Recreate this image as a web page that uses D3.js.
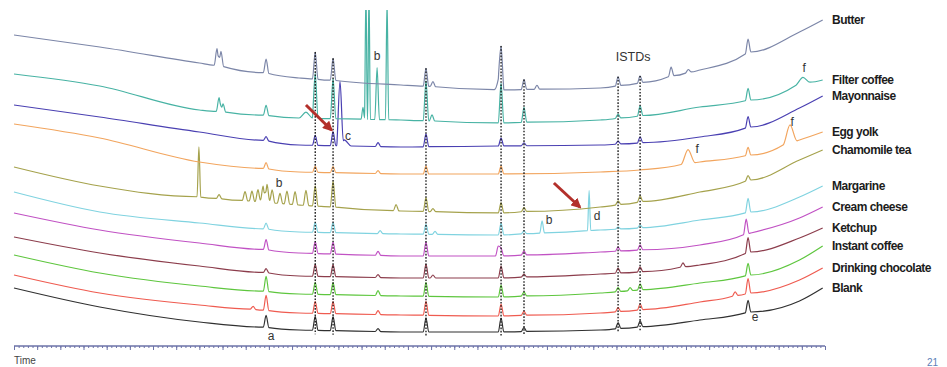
<!DOCTYPE html>
<html>
<head>
<meta charset="utf-8">
<script src="https://cdn.jsdelivr.net/npm/d3@7"></script>
<style>
  html, body { margin: 0; padding: 0; background: #fff; }
  svg { display: block; }
</style>
</head>
<body>
<div id="chart"></div>
<script>
// retention time grid (min) where the baselines were read
const knotTimes = [0, 3.7, 8, 12.3, 16.7, 21, 25.3, 27, 29.6, 31.8, 33.9, 34.9];

// baseline response of each trace at knotTimes
const butterBase     = [315, 303, 287, 272, 265, 260, 262, 267, 280, 298, 318, 330];
const filterBase     = [276, 264, 240, 232, 230, 227, 230, 234, 243, 250, 266, 270];
const mayoBase       = [245, 233, 218, 205, 203, 204, 205, 207, 213, 223, 242, 254];
const eggBase        = [226, 212, 188, 178, 176, 176, 178, 180, 188, 195, 210, 218];
const chamomileBase  = [183, 164, 153, 145, 139, 137, 143, 148, 158, 170, 190, 200];
const margarineBase  = [158, 138, 127, 118, 116, 115, 120, 122, 130, 138, 153, 164];
const creamBase      = [137, 120, 107,  97,  94,  94,  98, 100, 105, 117, 132, 143];
const ketchupBase    = [113,  97,  84,  74,  72,  72,  76,  78,  85,  98, 112, 122];
const instantBase    = [ 95,  77,  64,  56,  54,  53,  57,  60,  67,  75,  90, 104];
const chocolateBase  = [ 75,  57,  45,  37,  35,  34,  37,  40,  48,  57,  70,  82];
const blankBase      = [ 62,  43,  28,  20,  18,  18,  20,  23,  30,  38,  49,  62];

// peaks: [time, height, half width]
const butterPeaks = [[8.76,17],[8.93,15],[10.88,14],[13.0,27],[13.77,22],[17.78,18],[18.08,5],
  [20.92,12,0.2],[21.02,38],[22.01,10],[22.57,4],[26.07,9],[27.02,7],[28.36,9],[29.1,3],[31.68,14]];
const filterPeaks = [[8.85,14],[9.02,8],[10.88,10],[12.6,6,0.3],[13.0,45],[13.77,40],[15.06,12,0.08],
  [15.19,130,0.06],[15.32,130,0.06],[15.67,52,0.1],[16.1,120,0.07],[17.78,40],[18.04,6],[21.02,40],
  [22.01,15],[26.07,4],[27.02,10],[31.68,12],[34.05,6,0.3]];
const mayoPeaks = [[10.88,4],[13.0,10],[13.77,14],[14.07,62,0.14],[14.25,6,0.3],[15.71,4],[17.78,13],
  [21.02,8],[22.01,3],[26.07,3],[27.02,6],[31.68,11]];
const eggPeaks = [[10.88,6],[13.0,6],[13.77,6],[15.71,3],[17.78,8],[21.02,8],[29.09,14,0.3],
  [31.68,8],[33.49,18,0.3]];
const chamomilePeaks = [[7.98,50,0.08],[8.85,4],[9.97,9],[10.27,10],[10.53,12],[10.75,16],[10.92,18],
  [11.14,13],[11.48,10],[11.78,13],[12.13,13],[12.6,15],[13.0,20],[13.77,26],[16.49,6],[17.78,14],
  [18.08,3],[21.02,10],[22.01,4],[26.07,4],[27.02,6],[31.68,5]];
const margarinePeaks = [[10.88,6],[13.0,10],[13.77,10],[15.8,3],[17.78,10],[18.17,3],[21.02,12],
  [22.01,3],[22.79,12,0.1],[24.82,40,0.07],[26.07,2],[27.02,3],[31.68,14]];
const creamPeaks = [[10.88,10],[13.0,12],[13.77,12],[15.71,4],[17.78,14],[20.9,10],[21.02,8],
  [22.01,4],[26.07,4],[27.02,5],[31.6,15]];
const ketchupPeaks = [[10.88,4],[13.0,12],[13.77,12],[15.71,3],[17.78,14],[18.08,3],[21.02,12],
  [22.01,3],[26.07,5],[27.02,5],[28.87,4],[31.68,15]];
const instantPeaks = [[10.88,15],[13.0,12],[13.77,12],[15.71,5],[17.78,14],[21.02,12],[22.01,4],
  [26.07,4],[26.59,3],[27.02,6],[31.68,12]];
const chocolatePeaks = [[10.32,3],[10.88,15],[13.0,12],[13.77,12],[15.71,4],[17.78,14],[21.02,12],
  [22.01,4],[26.07,4],[27.02,6],[31.12,4],[31.68,15]];
const blankPeaks = [[10.88,12],[13.0,14],[13.77,14],[15.71,3],[17.78,14],[21.02,14],[22.01,4],
  [26.07,6],[27.02,6],[31.68,12]];

const names = ['Butter', 'Filter coffee', 'Mayonnaise', 'Egg yolk', 'Chamomile tea', 'Margarine',
  'Cream cheese', 'Ketchup', 'Instant coffee', 'Drinking chocolate', 'Blank'];
const colors = ['#7c86a8', '#48b3a4', '#4a40b2', '#f2a55e', '#a5a24c', '#80d3e0',
  '#c152c4', '#8c3d4c', '#5ec63e', '#ef5b50', '#303030'];

// retention times marked with dotted lines (ISTDs etc.)
const markerTimes = [13.0, 13.77, 17.78, 21.02, 22.01, 26.07, 27.02];

// annotation letters: [text, time, response]
const notes = [['a', 11.09, 14], ['b', 15.67, 294], ['c', 14.41, 214], ['b', 11.44, 167],
  ['b', 23.09, 130], ['d', 25.16, 134], ['e', 31.98, 33], ['f', 34.1, 282], ['f', 33.58, 228],
  ['f', 29.48, 201], ['ISTDs', 26.72, 293]];
// red arrows: [t0, r0, t1, r1]
const arrows = [[12.6, 245, 13.7, 220], [23.3, 167, 24.42, 143]];

const bases = [butterBase, filterBase, mayoBase, eggBase, chamomileBase, margarineBase,
  creamBase, ketchupBase, instantBase, chocolateBase, blankBase];
const peakSets = [butterPeaks, filterPeaks, mayoPeaks, eggPeaks, chamomilePeaks, margarinePeaks,
  creamPeaks, ketchupPeaks, instantPeaks, chocolatePeaks, blankPeaks];

const W = 947, H = 367;
const x = d3.scaleLinear().domain([0, 35]).range([14, 825]);
const y = d3.scaleLinear().domain([0, 340]).range([350, 10]);

const svg = d3.select('#chart').append('svg')
  .attr('width', W).attr('height', H)
  .style('font-family', '"Liberation Sans", Arial, sans-serif');

const defs = svg.append('defs');
defs.append('clipPath').attr('id', 'plot')
  .append('rect').attr('x', 0).attr('y', 10).attr('width', 830).attr('height', 340);
defs.append('marker')
  .attr('id', 'head').attr('viewBox', '0 0 10 10').attr('refX', 8).attr('refY', 5)
  .attr('markerWidth', 3.4).attr('markerHeight', 3.4).attr('orient', 'auto')
  .append('path').attr('d', 'M0,0L10,5L0,10z').attr('fill', '#b3302b');

// one trace = baseline + triangular peaks
const traces = names.map((name, i) => {
  const base = d3.scaleLinear().domain(knotTimes).range(bases[i]);
  const peaks = peakSets[i].map(p => ({ t: p[0], h: p[1], w: p[2] || 0.12 }));
  const value = t => base(t) + d3.sum(peaks, p => Math.max(0, p.h * (1 - Math.abs(t - p.t) / p.w)));
  let ts = knotTimes.filter(t => !peaks.some(p => Math.abs(t - p.t) < p.w));
  peaks.forEach(p => ts.push(p.t - p.w, p.t, p.t + p.w));
  ts = ts.filter(t => t >= 0 && t <= 34.9).sort((a, b) => a - b);
  return { name, color: colors[i], base, value, points: ts.map(t => [t, value(t)]) };
});

const line = d3.line()
  .x(d => x(d[0]))
  .y(d => y(d[1]))
  .curve(d3.curveMonotoneX);

const g = svg.append('g').attr('clip-path', 'url(#plot)');
g.selectAll('path.trace')
  .data(traces.slice().reverse())
  .join('path')
  .attr('class', 'trace')
  .attr('d', d => line(d.points))
  .attr('fill', 'none')
  .attr('stroke', d => d.color)
  .attr('stroke-width', 1.2);

// dotted marker lines from top trace apex down to the blank
const firstTrace = traces[0], lastTrace = traces[traces.length - 1];
svg.selectAll('line.marker')
  .data(markerTimes)
  .join('line')
  .attr('class', 'marker')
  .attr('x1', d => x(d)).attr('x2', d => x(d))
  .attr('y1', d => y(firstTrace.value(d)))
  .attr('y2', d => y(lastTrace.base(d)) + 4)
  .attr('stroke', '#111')
  .attr('stroke-width', 1.3)
  .attr('stroke-dasharray', '1.6,1.6');

// sample labels at the end of each trace
svg.selectAll('text.label')
  .data(traces)
  .join('text')
  .attr('class', 'label')
  .attr('x', 832)
  .attr('y', d => y(d.base(34.9)))
  .attr('dy', '0.35em')
  .attr('font-size', 12)
  .attr('font-weight', 'bold')
  .attr('letter-spacing', -0.5)
  .attr('fill', '#1c1c1c')
  .text(d => d.name);

svg.selectAll('text.note')
  .data(notes)
  .join('text')
  .attr('class', 'note')
  .attr('x', d => x(d[1]))
  .attr('y', d => y(d[2]))
  .attr('dy', '0.35em')
  .attr('text-anchor', 'middle')
  .attr('font-size', d => d[0] === 'ISTDs' ? 12.5 : 12)
  .attr('fill', '#333')
  .text(d => d[0]);

svg.selectAll('line.arrow')
  .data(arrows)
  .join('line')
  .attr('class', 'arrow')
  .attr('x1', d => x(d[0])).attr('y1', d => y(d[1]))
  .attr('x2', d => x(d[2])).attr('y2', d => y(d[3]))
  .attr('stroke', '#b3302b')
  .attr('stroke-width', 3)
  .attr('marker-end', 'url(#head)');

// time axis: minor and major ticks, no labels
const axisY = 346;
const minor = svg.append('g').attr('transform', `translate(0,${axisY})`)
  .call(d3.axisBottom(x).tickValues(d3.range(0, 35.01, 0.2)).tickSize(2).tickFormat(''));
const major = svg.append('g').attr('transform', `translate(0,${axisY})`)
  .call(d3.axisBottom(x).tickValues(d3.range(0, 36, 1)).tickSize(4).tickFormat(''));
[minor, major].forEach(a => {
  a.selectAll('.domain').attr('stroke', '#6c72a8').attr('d', `M${x(0)},0H${x(35)}`);
  a.selectAll('.tick line').attr('stroke', '#6c72a8');
});

svg.append('text').attr('x', 14).attr('y', 364)
  .attr('font-size', 10).attr('fill', '#444').text('Time');
svg.append('text').attr('x', 927).attr('y', 366)
  .attr('font-size', 10).attr('fill', '#5c80b8').text('21');
</script>
</body>
</html>
